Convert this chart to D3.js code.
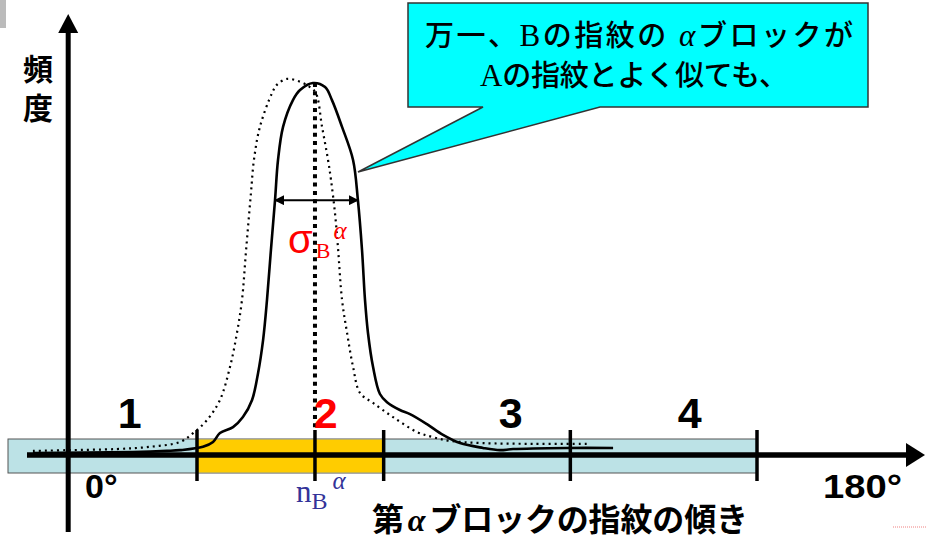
<!DOCTYPE html>
<html lang="ja">
<head>
<meta charset="UTF-8" />
<title>alpha block</title>
<script src="https://cdn.jsdelivr.net/npm/d3@7/dist/d3.min.js"></script>
<style>
  body { margin: 0; background: #fff; }
  svg { display: block; }
</style>
</head>
<body>
<div id="wrapper"></div>
<script>
// block boundaries (in block units) and labels
const blockEdges = [1, 2, 3, 4];
const blockLabels = ["1", "2", "3", "4"];
const blockLabelPos = [0.64, 1.69, 2.68, 3.64];
const highlight = [1, 2];
const nB = 1.632;

// solid curve: fingerprint B, frequency vs angle
const solidX = [0.121, 0.657, 0.839, 0.909, 1.032, 1.086, 1.123, 1.193, 1.246, 1.295, 1.327, 1.354, 1.375, 1.396, 1.418,
  1.434, 1.461, 1.514, 1.552, 1.621, 1.686, 1.723, 1.777, 1.836, 1.862, 1.884, 1.900, 1.916, 1.943, 1.980, 2.018, 2.087,
  2.141, 2.232, 2.318, 2.409, 2.532, 2.623, 2.693, 2.982, 3.229];
const solidY = [0.5, 0.8, 1.1, 1.3, 2.2, 3.5, 5.9, 7.5, 10.2, 14.8, 22.0, 30.9, 41.7, 55.1, 68.5,
  79.3, 88.2, 95.4, 98.1, 100, 98.9, 95.4, 88.2, 79.3, 68.5, 55.1, 41.7, 32.8, 23.7, 16.4, 14.2, 12.1,
  11.0, 8.3, 5.4, 3.2, 1.9, 1.3, 1.6, 1.9, 1.9];

// dotted curve: fingerprint A
const dottedX = [0.121, 0.304, 0.571, 0.748, 0.909, 0.979, 1.054, 1.123, 1.177, 1.214, 1.241, 1.263, 1.289, 1.305, 1.337,
  1.402, 1.428, 1.482, 1.568, 1.605, 1.637, 1.670, 1.702, 1.718, 1.739, 1.755, 1.777, 1.804, 1.836, 1.873, 1.943, 2.050,
  2.178, 2.264, 2.355, 2.532, 2.800, 3.089];
const dottedY = [1.1, 1.3, 1.6, 2.2, 3.5, 5.9, 9.4, 14.8, 23.7, 32.8, 41.7, 55.1, 70.4, 79.3, 88.2,
  97.3, 99.5, 101.1, 100, 98.9, 97.3, 88.2, 79.3, 73.9, 65.1, 55.9, 41.7, 32.8, 23.7, 16.7, 14.0, 10.2,
  6.2, 4.8, 3.8, 3.2, 3.0, 3.0];

const sigmaSpan = [1.418, 1.862];
const sigmaLevel = 68.5;

const W = 926, H = 542;
const axisY = 455;
const x = d3.scaleLinear().domain([0, 5]).range([10.33, 943.67]);
const y = d3.scaleLinear().domain([0, 100]).range([axisY, 83]);
const yAxisX = x(0.31);

const jp = "'Noto Sans CJK JP', sans-serif";
const serif = "'Liberation Serif', 'DejaVu Serif', serif";
const sans = "'Liberation Sans', Arial, sans-serif";

const svg = d3.select("#wrapper").append("svg").attr("width", W).attr("height", H);

// small artifacts
svg.append("rect").attr("x", 0).attr("y", 0).attr("width", 6).attr("height", 28).attr("fill", "#bbb");
svg.append("line").attr("x1", 893).attr("x2", 926).attr("y1", 527).attr("y2", 527)
  .attr("stroke", "#f08080").attr("stroke-width", 1).attr("stroke-dasharray", "1,1");

// band
svg.append("rect").attr("x", 8).attr("y", 439).attr("width", x(4) - 8).attr("height", 34)
  .attr("fill", "#bce2e6").attr("stroke", "#555").attr("stroke-width", 1);
svg.append("rect").attr("x", x(highlight[0])).attr("y", 439.5)
  .attr("width", x(highlight[1]) - x(highlight[0])).attr("height", 33).attr("fill", "#ffcc00");

// y axis
svg.append("line").attr("x1", yAxisX).attr("x2", yAxisX).attr("y1", 30).attr("y2", 532)
  .attr("stroke", "#000").attr("stroke-width", 5);
svg.append("path").attr("d", `M${yAxisX},14 L${yAxisX - 10},33 L${yAxisX + 10},33 Z`).attr("fill", "#000");

// x axis
svg.append("line").attr("x1", 27).attr("x2", 910).attr("y1", axisY).attr("y2", axisY)
  .attr("stroke", "#000").attr("stroke-width", 5.5);
svg.append("path").attr("d", `M925,${axisY} L906,${axisY - 12} L906,${axisY + 12} Z`).attr("fill", "#000");

// curves
const line = d3.line().x(d => x(d[0])).y(d => y(d[1])).curve(d3.curveCatmullRom.alpha(0.5));
svg.append("path").datum(dottedX.map((v, i) => [v, dottedY[i]])).attr("d", line)
  .attr("fill", "none").attr("stroke", "#000").attr("stroke-width", 2.2).attr("stroke-dasharray", "2,4");
svg.append("path").datum(solidX.map((v, i) => [v, solidY[i]])).attr("d", line)
  .attr("fill", "none").attr("stroke", "#000").attr("stroke-width", 2.6);

// nB dotted line
svg.append("line").attr("x1", x(nB)).attr("x2", x(nB)).attr("y1", y(100)).attr("y2", 430)
  .attr("stroke", "#000").attr("stroke-width", 4).attr("stroke-dasharray", "4,4.3");

// ticks
svg.selectAll(".tick").data(blockEdges.concat([nB])).join("line").attr("class", "tick")
  .attr("x1", d => x(d)).attr("x2", d => x(d)).attr("y1", 430).attr("y2", 481)
  .attr("stroke", "#000").attr("stroke-width", 3.5);

// sigma arrow
const defs = svg.append("defs");
defs.append("marker").attr("id", "ah").attr("viewBox", "0 0 10 10").attr("refX", 9).attr("refY", 5)
  .attr("markerWidth", 5).attr("markerHeight", 5).attr("orient", "auto-start-reverse")
  .append("path").attr("d", "M0,0 L10,5 L0,10 Z").attr("fill", "#000");
svg.append("line").attr("x1", x(sigmaSpan[0])).attr("x2", x(sigmaSpan[1]))
  .attr("y1", y(sigmaLevel)).attr("y2", y(sigmaLevel))
  .attr("stroke", "#000").attr("stroke-width", 2)
  .attr("marker-start", "url(#ah)").attr("marker-end", "url(#ah)");

// sigma label
const sig = svg.append("text").attr("x", 288).attr("y", 253).attr("fill", "#ff0000");
sig.append("tspan").attr("font-family", sans).attr("font-size", 40).text("σ");
sig.append("tspan").attr("font-family", serif).attr("font-size", 22).attr("dx", 3).attr("dy", 5).text("B");
sig.append("tspan").attr("font-family", serif).attr("font-style", "italic").attr("font-size", 25)
  .attr("dx", 3).attr("dy", -19).text("α");

// nB label
const nl = svg.append("text").attr("x", 296).attr("y", 502).attr("fill", "#333399").attr("font-family", serif);
nl.append("tspan").attr("font-size", 31).text("n");
nl.append("tspan").attr("font-size", 24).attr("dy", 7).text("B");
nl.append("tspan").attr("font-size", 25).attr("font-style", "italic").attr("dx", 5).attr("dy", -20).text("α");

// block numbers
svg.selectAll(".blk").data(blockLabels).join("text").attr("class", "blk")
  .attr("x", (d, i) => x(blockLabelPos[i])).attr("y", 428).attr("text-anchor", "middle")
  .attr("font-family", sans).attr("font-weight", "bold").attr("font-size", 43)
  .attr("fill", d => d === "2" ? "#ff0000" : "#000").text(d => d);

// degree labels
svg.append("text").attr("x", 85).attr("y", 498).attr("font-family", sans).attr("font-weight", "bold")
  .attr("font-size", 34).text("0°");
svg.append("text").attr("x", 823).attr("y", 498).attr("font-family", sans).attr("font-weight", "bold")
  .attr("font-size", 34).attr("textLength", 79).attr("lengthAdjust", "spacingAndGlyphs").text("180°");

// axis titles
const yt = svg.append("text").attr("text-anchor", "middle").attr("font-family", jp)
  .attr("font-weight", "bold").attr("font-size", 30);
yt.append("tspan").attr("x", 38).attr("y", 80).text("頻");
yt.append("tspan").attr("x", 38).attr("y", 119).text("度");

const xt = svg.append("text").attr("x", 372).attr("y", 531).attr("font-family", jp)
  .attr("font-weight", "bold").attr("font-size", 32).attr("textLength", 376).attr("lengthAdjust", "spacing");
xt.append("tspan").text("第");
xt.append("tspan").attr("font-style", "italic").attr("font-family", serif).attr("dx", 4).text("α");
xt.append("tspan").attr("dx", 4).text("ブロックの指紋の傾き");

// callout
const tip = [358, 172];
svg.append("path")
  .attr("d", `M408,3 H868 V107 H600 L${tip[0]},${tip[1]} L483,107 H408 Z`)
  .attr("fill", "#00ffff").attr("stroke", "#333").attr("stroke-width", 1.5);

const l1 = svg.append("text").attr("x", 425).attr("y", 46).attr("font-family", jp).attr("font-size", 29)
  .attr("font-weight", 500).attr("textLength", 428).attr("lengthAdjust", "spacing");
l1.append("tspan").text("万一、");
l1.append("tspan").attr("font-family", serif).attr("font-size", 31).text("B");
l1.append("tspan").text("の指紋の");
l1.append("tspan").attr("font-family", serif).attr("font-style", "italic").attr("font-size", 31).text(" α");
l1.append("tspan").text("ブロックが");

const l2 = svg.append("text").attr("x", 480).attr("y", 86).attr("font-family", jp).attr("font-size", 29)
  .attr("font-weight", 500).attr("textLength", 308).attr("lengthAdjust", "spacing");
l2.append("tspan").attr("font-family", serif).attr("font-size", 31).text("A");
l2.append("tspan").text("の指紋とよく似ても、");
</script>
</body>
</html>
